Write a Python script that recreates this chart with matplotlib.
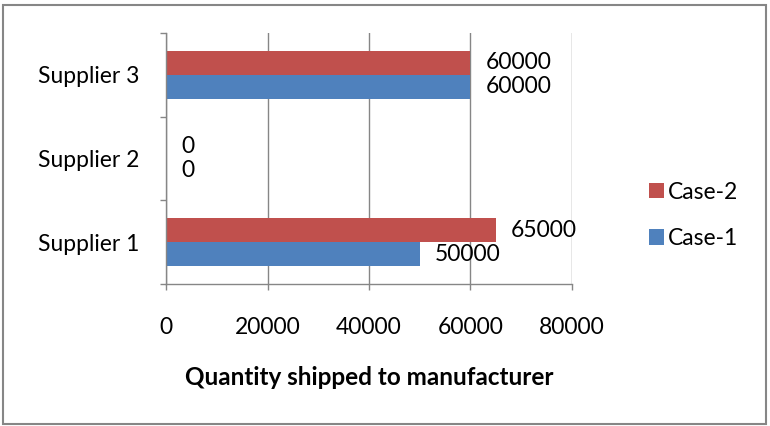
import matplotlib
matplotlib.use("Agg")
import matplotlib.pyplot as plt
from matplotlib.patches import Rectangle, Patch
import numpy as np

plt.rcParams['font.family'] = ['Lato', 'DejaVu Sans']

categories = ["Supplier 1", "Supplier 2", "Supplier 3"]
case1 = [50000, 0, 60000]
case2 = [65000, 0, 60000]
series_names = ["Case-1", "Case-2"]
xticks = [0, 20000, 40000, 60000, 80000]
xlabel = "Quantity shipped to manufacturer"

blue = "#4F81BD"
red = "#C0504D"
grey = "#868686"
fs = 16.5

fig = plt.figure(figsize=(7.7, 4.26), dpi=100)
ax = fig.add_axes([166/770, 1-284/426, (572-166)/770, (284-33)/426])

y = np.arange(len(categories))
h = 1/3.5
ax.barh(y - h/2, case1, height=h, color=blue, label=series_names[0], zorder=3)
ax.barh(y + h/2, case2, height=h, color=red, label=series_names[1], zorder=3)

for yi, v in zip(y - h/2, case1):
    ax.annotate(f"{v}", (v, yi), xytext=(11, 0), textcoords="offset points",
                va="center", ha="left", fontsize=fs)
for yi, v in zip(y + h/2, case2):
    ax.annotate(f"{v}", (v, yi), xytext=(11, 0), textcoords="offset points",
                va="center", ha="left", fontsize=fs)

ax.set_xlim(0, 80000)
ax.set_ylim(-0.5, len(categories) - 0.5)
ax.set_xticks(xticks)
ax.set_xticklabels([str(t) for t in xticks], fontsize=fs)
ax.tick_params(axis="x", direction="out", length=4.3, width=1, color=grey, pad=19.5)

ax.set_yticks(np.arange(-0.5, len(categories), 1.0))
ax.set_yticklabels([])
ax.set_yticks(y, minor=True)
ax.set_yticklabels(categories, minor=True, fontsize=fs)
ax.tick_params(axis="y", which="major", direction="out", length=4.3, width=1, color=grey)
ax.tick_params(axis="y", which="minor", length=0, pad=19)

ax.grid(axis="x", color=grey, linewidth=1, zorder=0)
for s in ["top", "right"]:
    ax.spines[s].set_visible(False)
for s in ["left", "bottom"]:
    ax.spines[s].set_color(grey)
    ax.spines[s].set_linewidth(1)
    ax.spines[s].set_zorder(4)

ax.set_xlabel(xlabel, fontsize=17.5, fontweight="bold", va="center")
ax.xaxis.set_label_coords(0.5, (284-378)/(284-33))

handles = [Patch(facecolor=red, label=series_names[1]),
           Patch(facecolor=blue, label=series_names[0])]
fig.legend(handles=handles, loc="center left", bbox_to_anchor=(640/770, 1-215.5/426),
           frameon=False, fontsize=fs, handlelength=0.65, handleheight=0.65,
           handletextpad=0.18, labelspacing=1.1, borderaxespad=0)

fig.patches.append(Rectangle((3/770, 2/426), 763/770, 419/426, transform=fig.transFigure,
                             fill=False, edgecolor=grey, linewidth=1.5))

fig.savefig("out.png", dpi=100)
